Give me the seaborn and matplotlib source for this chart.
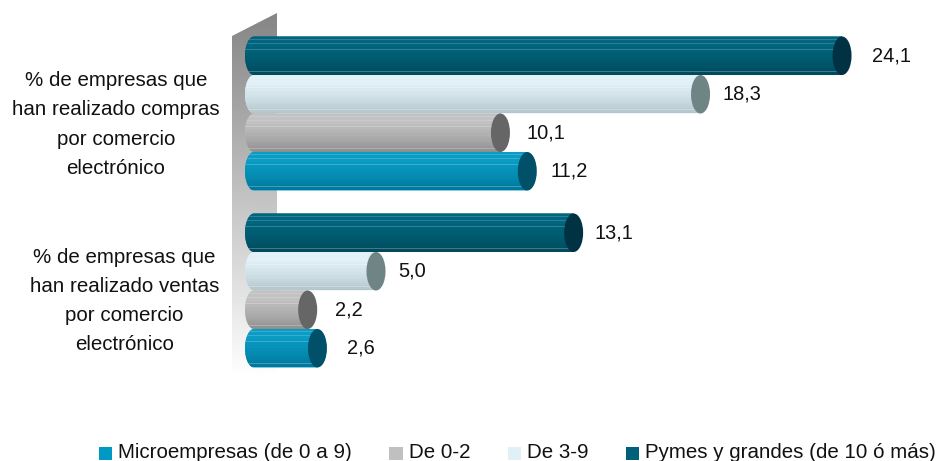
import numpy as np
import pandas as pd
import seaborn as sns
import matplotlib
matplotlib.use("Agg")
import matplotlib.pyplot as plt
from matplotlib.colors import to_rgb
from matplotlib.legend_handler import HandlerPatch
from matplotlib.patches import Ellipse, PathPatch, Patch, Polygon, Rectangle
from matplotlib.path import Path

categories = ["% de empresas que\nhan realizado compras\npor comercio\nelectrónico",
              "% de empresas que\nhan realizado ventas\npor comercio\nelectrónico"]
segments = ["Microempresas (de 0 a 9)", "De 0-2", "De 3-9", "Pymes y grandes (de 10 ó más)"]
micro = [11.2, 2.6]
de_0_2 = [10.1, 2.2]
de_3_9 = [18.3, 5.0]
pymes = [24.1, 13.1]

legend_colors = ["#0099c4", "#c0c0c0", "#dff0f6", "#00607a"]
grad_top = ["#0a9cc4", "#c2c2c2", "#e0f0f6", "#00657d"]
grad_bot = ["#00769a", "#8e8e8e", "#b4c6cc", "#004a5c"]
cap_colors = ["#00506a", "#666666", "#6f8484", "#003244"]
# horizontal gap (px) between bar end and its value label
label_gaps = {"Microempresas (de 0 a 9)": [42, 43], "De 0-2": [45, 41],
              "De 3-9": [41, 36], "Pymes y grandes (de 10 ó más)": [49, 40]}

W, H = 940, 461
X0, SX = 254.0, 24.4
Y0, SY = 113.5, 177.0
def dx(p): return (p - X0) / SX
def dy(p): return (p - Y0) / SY

sns.set_theme(style="white")
plt.rcParams["font.family"] = ["Liberation Sans", "DejaVu Sans"]

df = pd.DataFrame({
    "cat": categories * 4,
    "seg": [s for s in segments for _ in categories],
    "val": micro + de_0_2 + de_3_9 + pymes,
})

fig = plt.figure(figsize=(W / 100, H / 100), dpi=100, facecolor="white")
ax = fig.add_axes([0, 0, 1, 1])
hue_order = segments[::-1]
palette = dict(zip(segments, legend_colors))
sns.barplot(data=df, y="cat", x="val", hue="seg", order=categories, hue_order=hue_order,
            palette=palette, width=0.87, gap=0, dodge=True, legend=False, saturation=1,
            errorbar=None, ax=ax)

# gradient back wall
wall_x = [dx(232), dx(277), dx(277), dx(232)]
wall_y = [dy(36), dy(13), dy(378), dy(378)]
wall_grad = np.linspace(0.52, 1.0, 256).reshape(-1, 1)
wall = ax.imshow(wall_grad, cmap="gray", vmin=0, vmax=1, aspect="auto",
                 extent=[dx(232), dx(277), dy(378), dy(13)], zorder=0.5)
wall_poly = Polygon(list(zip(wall_x, wall_y)), closed=True, transform=ax.transData,
                    fc="none", ec="none")
ax.add_patch(wall_poly)
wall.set_clip_path(wall_poly)

stripe_rows = [(0.07, 0.18), (0.18, 0.18), (0.33, 0.2), (0.91, 0.25)]
def bar_image(top, bot):
    t, b = np.array(to_rgb(top)), np.array(to_rgb(bot))
    n = 76
    f = np.linspace(0, 1, n)
    f = np.clip((f - 0.15) / 0.85, 0, 1) ** 1.3
    f = np.floor(f * 12) / 12
    img = t[None, :] * (1 - f[:, None]) + b[None, :] * f[:, None]
    for pos, a in stripe_rows:
        r = int(pos * n)
        img[r:r + 2] = img[r:r + 2] * (1 - a) + a
    return img[:, None, :]

rx = 9.0 / SX
cap_rx = 9.5 / SX
z = 3
for container, seg in zip(ax.containers, hue_order):
    i = segments.index(seg)
    for k, rect in enumerate(container):
        rect.set_visible(False)
        v, y, h = rect.get_width(), rect.get_y(), rect.get_height()
        th = np.linspace(np.pi / 2, 3 * np.pi / 2, 24)
        left = np.column_stack([rx * np.cos(th), y + h / 2 - (h / 2) * np.sin(th)])
        verts = np.vstack([[[v, y]], left, [[v, y + h]], [[v, y]]])
        codes = [Path.MOVETO] + [Path.LINETO] * (len(verts) - 2) + [Path.CLOSEPOLY]
        body = PathPatch(Path(verts, codes), fc=grad_top[i], ec="none", zorder=z)
        ax.add_patch(body)
        im = ax.imshow(bar_image(grad_top[i], grad_bot[i]), aspect="auto",
                       extent=[-rx, v, y + h, y], zorder=z + 0.1, interpolation="nearest")
        im.set_clip_path(body)
        ax.add_patch(Ellipse((v, y + h / 2), 2 * cap_rx, h, fc=cap_colors[i], ec="none", zorder=z + 0.2))
        ax.annotate(f"{v:.1f}".replace(".", ","), (v, y + h / 2),
                    xytext=(label_gaps[seg][k] * 0.72, 0), textcoords="offset points",
                    ha="center", va="center", fontsize=14.4, color="#111111", zorder=20)
    # Pymes drawn first so that lower bars lie on top
    z += 1

# group labels
ax.text(dx(116), dy(124.5), categories[0], ha="center", va="center", fontsize=14.8,
        linespacing=1.68, color="#111111")
ax.text(dx(124.5), dy(301), categories[1], ha="center", va="center", fontsize=14.8,
        linespacing=1.68, color="#111111")

ax.set_xlim(dx(0), dx(W))
ax.set_ylim(dy(H), dy(0))
ax.axis("off")

def low_swatch(legend, orig_handle, xdescent, ydescent, width, height, fontsize):
    return Rectangle((-xdescent, -ydescent - 1.45), width, 9.36)

handles = [Patch(fc=c, ec="none") for c in legend_colors]
fig.legend(handles, segments, loc="lower left", bbox_to_anchor=(95 / W, -5.5 / H), ncol=4, frameon=False,
           fontsize=14.8, handlelength=0.635, handleheight=0.635, handletextpad=0.29,
           columnspacing=1.83, borderpad=0.2, borderaxespad=0, labelcolor="#111111",
           handler_map={Patch: HandlerPatch(patch_func=low_swatch)})

fig.savefig("out.png", dpi=100, facecolor="white")
